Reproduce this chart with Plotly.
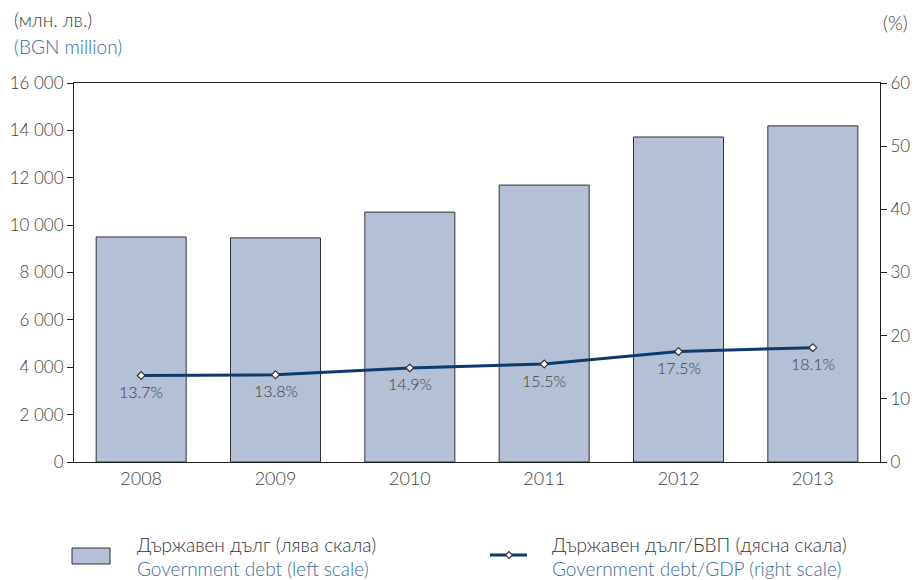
import plotly.graph_objects as go

years = ["2008", "2009", "2010", "2011", "2012", "2013"]
debt = [9500, 9460, 10550, 11690, 13720, 14190]
debt_gdp = [13.7, 13.8, 14.9, 15.5, 17.5, 18.1]
debt_gdp_labels = ["13.7%", "13.8%", "14.9%", "15.5%", "17.5%", "18.1%"]
left_ticks = [0, 2000, 4000, 6000, 8000, 10000, 12000, 14000, 16000]
left_tick_text = ["0", "2 000", "4 000", "6 000", "8 000", "10 000", "12 000", "14 000", "16 000"]
right_ticks = [0, 10, 20, 30, 40, 50, 60]

FONT = "Lato"
GRAY = "#404040"
BLUE = "#3a6a9e"
BAR = "#b3c0d6"
LINE = "#0d3a6c"

# plot area in pixels
L, R, T, B = 74, 880, 83, 462


def px(x):
    return (x - L) / (R - L)


def py(y):
    return (B - y) / (B - T)


fig = go.Figure()
fig.add_trace(go.Bar(
    x=years, y=debt, marker=dict(color=BAR, line=dict(color="#333333", width=1)),
    width=0.67, showlegend=False, yaxis="y",
))
fig.add_trace(go.Scatter(
    x=years, y=debt_gdp, yaxis="y2", mode="lines+markers",
    line=dict(color=LINE, width=3),
    marker=dict(symbol="diamond", size=6, color="white", line=dict(color="#333333", width=1.2)),
    showlegend=False,
))

fig.update_layout(
    width=915, height=580,
    margin=dict(l=L, r=915 - R, t=T, b=580 - B, autoexpand=False),
    paper_bgcolor="white", plot_bgcolor="white",
    font=dict(family=FONT, size=16, color=GRAY, weight=300),
    xaxis=dict(type="category", range=[-0.5, 5.5],
               showline=True, linecolor="#222222", linewidth=1, mirror=True, automargin=False,
               ticks="", tickfont=dict(size=18, color=GRAY, weight=300), showgrid=False),
    yaxis=dict(range=[0, 16000], tickvals=left_ticks, ticktext=left_tick_text, automargin=False,
               showline=True, linecolor="#222222", linewidth=1, ticks="outside",
               ticklen=6, tickcolor="#222222", showgrid=False, zeroline=False,
               tickfont=dict(size=17, color=GRAY, weight=300)),
    yaxis2=dict(range=[0, 60], tickvals=right_ticks, overlaying="y", side="right", automargin=False,
                showline=True, linecolor="#222222", linewidth=1, ticks="outside",
                ticklen=6, tickcolor="#222222", showgrid=False, zeroline=False,
                tickfont=dict(size=17, color=GRAY, weight=300)),
)

fs = 19
ann = [
    dict(x=px(12), y=py(19), text="(млн. лв.)", xanchor="left", yanchor="middle",
         font=dict(size=fs, color=GRAY, weight=300)),
    dict(x=px(12), y=py(46), text="(BGN million)", xanchor="left", yanchor="middle",
         font=dict(size=fs, color=BLUE, weight=300)),
    dict(x=px(910), y=py(22), text="(%)", xanchor="right", yanchor="middle",
         font=dict(size=fs, color=GRAY, weight=300)),
    dict(x=px(135), y=py(544), text="Държавен дълг (лява скала)", xanchor="left", yanchor="middle",
         font=dict(size=fs, color="#333333", weight=300)),
    dict(x=px(135), y=py(568), text="Government debt (left scale)", xanchor="left", yanchor="middle",
         font=dict(size=fs, color=BLUE, weight=300)),
    dict(x=px(550), y=py(544), text="Държавен дълг/БВП (дясна скала)", xanchor="left", yanchor="middle",
         font=dict(size=fs, color="#333333", weight=300)),
    dict(x=px(550), y=py(568), text="Government debt/GDP (right scale)", xanchor="left", yanchor="middle",
         font=dict(size=fs, color=BLUE, weight=300)),
]
for a in ann:
    a.update(xref="paper", yref="paper", showarrow=False)
for i, (v, lab) in enumerate(zip(debt_gdp, debt_gdp_labels)):
    ann.append(dict(x=i, y=v, xref="x", yref="y2", text=lab, showarrow=False,
                    xanchor="center", yanchor="middle", yshift=-16,
                    font=dict(size=16, color=GRAY, weight=300)))
fig.update_layout(annotations=ann)

dx, dy = 3.5 / (R - L), 3.5 / (B - T)
cx, cy = px(509), py(555)
diamond = f"M {cx - dx} {cy} L {cx} {cy + dy} L {cx + dx} {cy} L {cx} {cy - dy} Z"
shapes = [
    dict(type="rect", xref="paper", yref="paper", x0=px(72), x1=px(110),
         y0=py(564), y1=py(548), fillcolor=BAR, line=dict(color="#333333", width=1)),
    dict(type="line", xref="paper", yref="paper", x0=px(490), x1=px(527),
         y0=py(555), y1=py(555), line=dict(color=LINE, width=3)),
    dict(type="path", xref="paper", yref="paper", path=diamond, fillcolor="white",
         line=dict(color="#333333", width=1.2)),
]
fig.update_layout(shapes=shapes)

fig.write_html("out.html", config={"displayModeBar": False},
               post_script="document.body.style.margin='0';document.body.style.overflow='hidden';")
